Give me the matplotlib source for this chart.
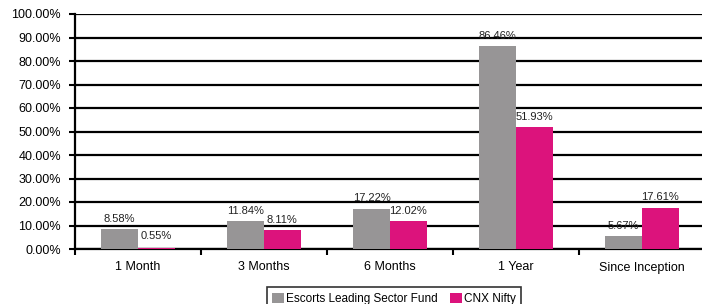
import numpy as np
import matplotlib.pyplot as plt
from matplotlib.ticker import FixedLocator

plt.rcParams['font.family'] = ['Liberation Sans', 'DejaVu Sans']

# Data
periods = ["1 Month", "3 Months", "6 Months", "1 Year", "Since Inception"]
fund = [8.58, 11.84, 17.22, 86.46, 5.67]
nifty = [0.55, 8.11, 12.02, 51.93, 17.61]
series_names = ["Escorts Leading Sector Fund", "CNX Nifty"]

gray = "#979596"
magenta = "#DC137C"

fig = plt.figure(figsize=(7.02, 3.04), dpi=100)
ax = fig.add_axes([75 / 702, 1 - 249 / 304, 630 / 702, 235 / 304])

x = np.arange(len(periods))
w = 0.29
b1 = ax.bar(x - w / 2, fund, w, color=gray, zorder=3)
b2 = ax.bar(x + w / 2, nifty, w, color=magenta, zorder=3)

for bars, vals in ((b1, fund), (b2, nifty)):
    for r, v in zip(bars, vals):
        ax.text(r.get_x() + r.get_width() / 2, max(v, 1) + 2.2, f"{v:.2f}%",
                ha='center', va='bottom', fontsize=8, color='#222222')

ax.set_ylim(0, 100)
ax.set_xlim(-0.5, len(periods) - 0.5)
ax.set_yticks(np.arange(0, 101, 10))
ax.set_yticklabels([f"{v:.2f}%" for v in np.arange(0, 101, 10)], fontsize=9)
ax.yaxis.grid(True, color='black', linewidth=1.6, zorder=0)
ax.set_axisbelow(True)

ax.set_xticks(x)
ax.set_xticklabels(periods, fontsize=9)
ax.tick_params(axis='x', length=0, pad=9)
ax.xaxis.set_minor_locator(FixedLocator(np.arange(-0.5, len(periods), 1)))
ax.tick_params(axis='x', which='minor', length=4, width=1.5, direction='out')
ax.tick_params(axis='y', length=4, width=1.5, direction='out', pad=6)

for s in ("top", "right"):
    ax.spines[s].set_visible(False)
for s in ("left", "bottom"):
    ax.spines[s].set_linewidth(1.6)

leg = fig.legend([b1, b2], series_names, loc='lower center',
                 bbox_to_anchor=(394 / 702, -0.04), ncol=2, fontsize=8.5,
                 frameon=True, fancybox=False, edgecolor='black',
                 handlelength=1.0, handleheight=1.0, handletextpad=0.2,
                 columnspacing=1.0, borderpad=0.45)
leg.get_frame().set_linewidth(1.2)

fig.savefig("out.png", dpi=100)
